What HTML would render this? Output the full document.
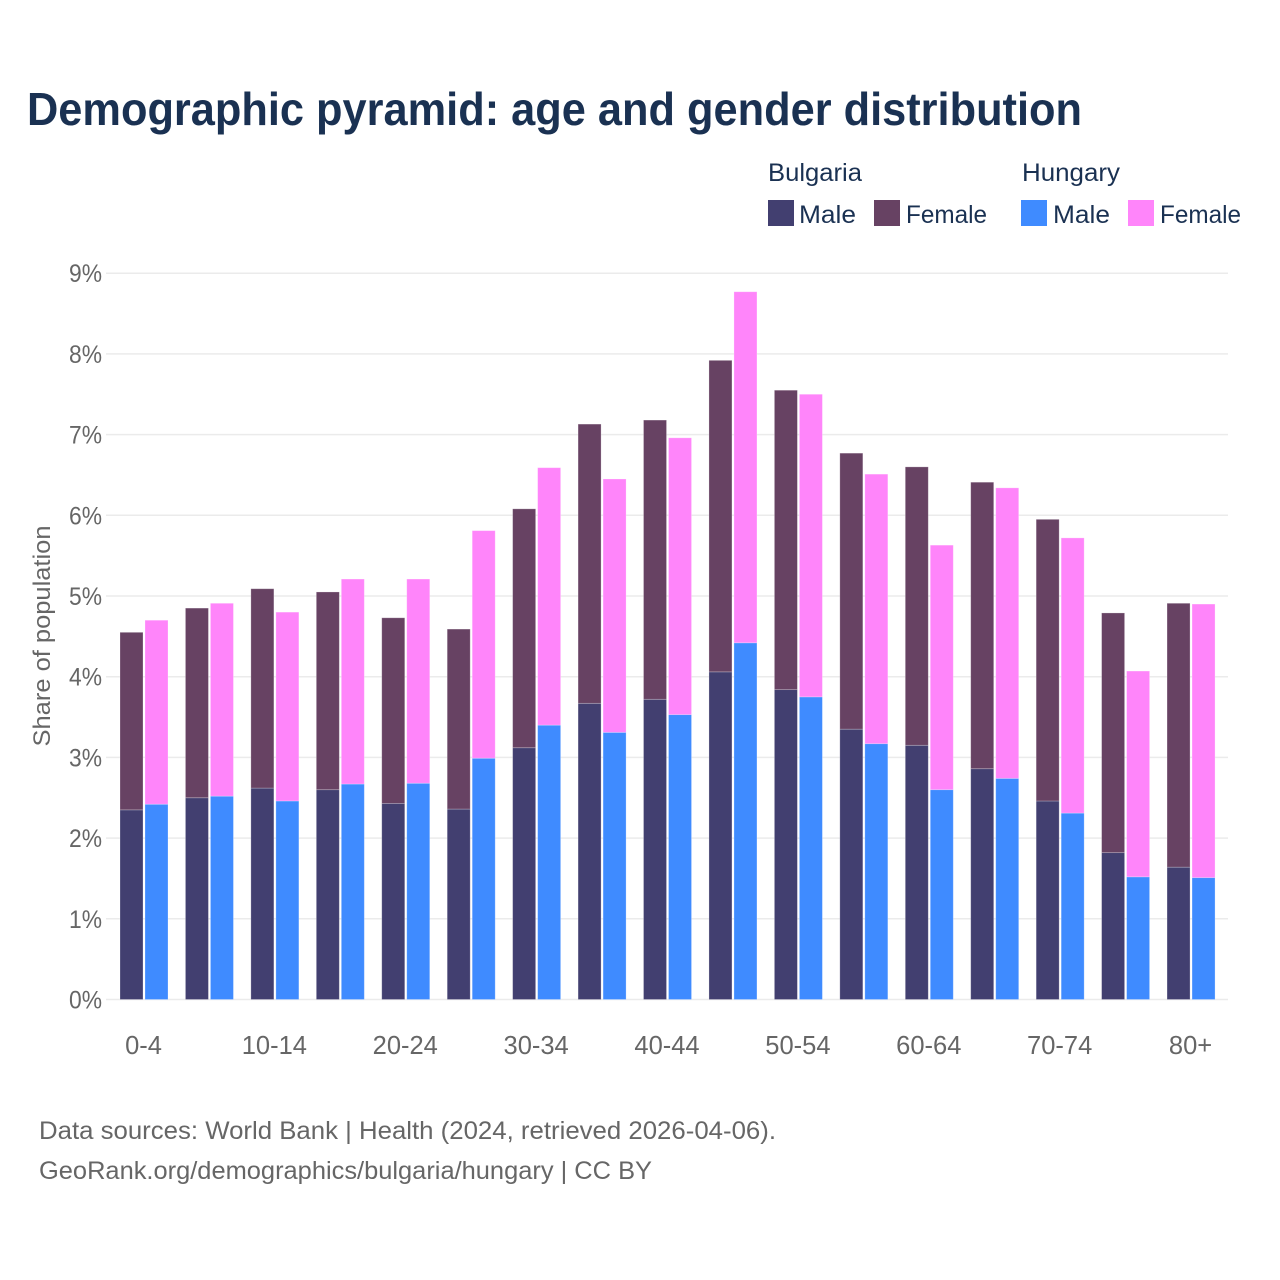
<!DOCTYPE html>
<html lang="en">
<head>
<meta charset="utf-8">
<title>Demographic pyramid: age and gender distribution</title>
<style>
html,body{margin:0;padding:0;background:#fff;}
svg{display:block;font-family:"Liberation Sans",sans-serif;}
</style>
</head>
<body>
<svg id="chart" width="1280" height="1280" viewBox="0 0 1280 1280" xmlns="http://www.w3.org/2000/svg">
  <rect width="1280" height="1280" fill="#ffffff"/>
  <text x="27" y="125" font-size="46" font-weight="700" fill="#1a3152" textLength="1055" lengthAdjust="spacingAndGlyphs">Demographic pyramid: age and gender distribution</text>

  <g font-size="25" fill="#1a3152">
    <text x="768" y="181" textLength="94" lengthAdjust="spacingAndGlyphs">Bulgaria</text>
    <text x="1022" y="181" textLength="98" lengthAdjust="spacingAndGlyphs">Hungary</text>
    <rect x="768" y="200" width="26" height="26" fill="#423f70"/>
    <text x="799" y="223" textLength="57" lengthAdjust="spacingAndGlyphs">Male</text>
    <rect x="874" y="200" width="26" height="26" fill="#674263"/>
    <text x="906" y="223" textLength="81" lengthAdjust="spacingAndGlyphs">Female</text>
    <rect x="1021" y="200" width="26" height="26" fill="#3f8bff"/>
    <text x="1053" y="223" textLength="57" lengthAdjust="spacingAndGlyphs">Male</text>
    <rect x="1128" y="200" width="26" height="26" fill="#ff85fa"/>
    <text x="1160" y="223" textLength="81" lengthAdjust="spacingAndGlyphs">Female</text>
  </g>

  <g id="grid"></g>
  <g id="bars"></g>
  <g id="yticks"></g>
  <g id="xticks"></g>

  <text transform="translate(50,636) rotate(-90)" text-anchor="middle" font-size="24" fill="#666666" textLength="221" lengthAdjust="spacingAndGlyphs">Share of population</text>

  <text x="39" y="1139" font-size="25" fill="#666666" textLength="737" lengthAdjust="spacingAndGlyphs">Data sources: World Bank | Health (2024, retrieved 2026-04-06).</text>
  <text x="39" y="1179" font-size="25" fill="#666666" textLength="613" lengthAdjust="spacingAndGlyphs">GeoRank.org/demographics/bulgaria/hungary | CC BY</text>
</svg>
<script>
const categories = ["0-4","5-9","10-14","15-19","20-24","25-29","30-34","35-39","40-44","45-49","50-54","55-59","60-64","65-69","70-74","75-79","80+"];
const bulgariaMale = [2.35,2.50,2.62,2.60,2.43,2.36,3.12,3.67,3.72,4.06,3.84,3.35,3.15,2.86,2.46,1.82,1.64];
const bulgariaFemale = [2.20,2.35,2.47,2.45,2.30,2.23,2.96,3.46,3.46,3.86,3.71,3.42,3.45,3.55,3.49,2.97,3.27];
const hungaryMale = [2.42,2.52,2.46,2.67,2.68,2.99,3.40,3.31,3.53,4.42,3.75,3.17,2.60,2.74,2.31,1.52,1.51];
const hungaryFemale = [2.28,2.39,2.34,2.54,2.53,2.82,3.19,3.14,3.43,4.35,3.75,3.34,3.03,3.60,3.41,2.55,3.39];
const yTickValues = [0,1,2,3,4,5,6,7,8,9];
const yTickLabels = ["0%","1%","2%","3%","4%","5%","6%","7%","8%","9%"];
const xTickLabels = ["0-4","10-14","20-24","30-34","40-44","50-54","60-64","70-74","80+"];

const NS = "http://www.w3.org/2000/svg";
const yAxis = v => 999.5 - v * 80.7;
const xAxis = i => 120 + i * 65.44;
const barWidth = 23;
const barOffset = 25;

function make(tag, parent, attrs) {
  const el = document.createElementNS(NS, tag);
  for (const k in attrs) el.setAttribute(k, attrs[k]);
  parent.appendChild(el);
  return el;
}

const gridG = document.getElementById("grid");
const yTickG = document.getElementById("yticks");
yTickValues.forEach((v, i) => {
  const line = make("line", gridG, {x1:106, x2:1228, y1:yAxis(v), y2:yAxis(v), stroke:"#ebebeb", "stroke-width":1.5});
  
  
  const t = make("text", yTickG, {x:102, y:yAxis(v)+9, "text-anchor":"end", "font-size":25, fill:"#666666", textLength:33, lengthAdjust:"spacingAndGlyphs"});
  
  
  t.textContent = yTickLabels[i];
});

const barsG = document.getElementById("bars");
function drawStack(values, base, offset, fill, name) {
  values.forEach((v, i) => {
    const start = base ? base[i] : 0;
    const top = yAxis(start + v);
    const bottom = yAxis(start);
    const r = make("rect", barsG, {x:xAxis(i)+offset, y:top, width:barWidth, height:bottom-top, fill:fill, stroke:"#ffffff", "stroke-opacity":0.3, "stroke-width":0.8});
    
    
  });
}
drawStack(bulgariaMale, null, 0, "#423f70", "bar-bulgaria-male");
drawStack(bulgariaFemale, bulgariaMale, 0, "#674263", "bar-bulgaria-female");
drawStack(hungaryMale, null, barOffset, "#3f8bff", "bar-hungary-male");
drawStack(hungaryFemale, hungaryMale, barOffset, "#ff85fa", "bar-hungary-female");

const xTickG = document.getElementById("xticks");
categories.forEach((c, i) => {
  if (!xTickLabels.includes(c)) return;
  const t = make("text", xTickG, {x:xAxis(i)+barOffset-1.5, y:1054, "text-anchor":"middle", "font-size":25.5, fill:"#666666"});
  
  
  t.textContent = c;
});
</script>
</body>
</html>
